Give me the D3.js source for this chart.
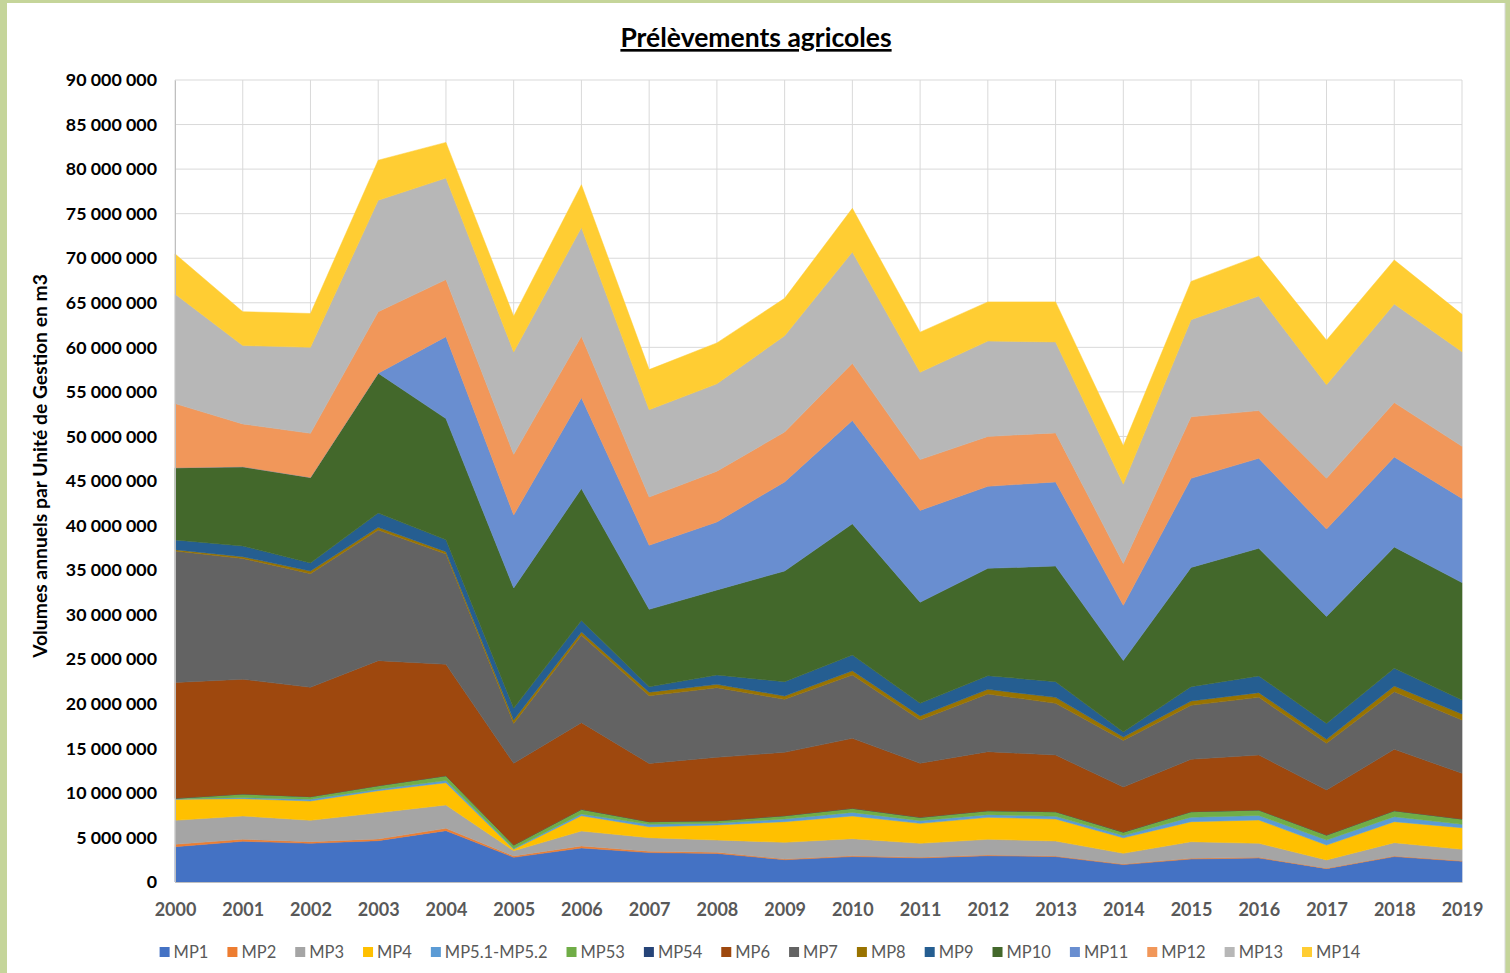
<html>
<head>
<script src="https://d3js.org/d3.v7.min.js"></script>
<style>
  body { margin: 0; background: #c5d59a; }
  svg { display: block; }
  .tick text { font-family: Lato, "Open Sans", sans-serif; }
</style>
</head>
<body>
<svg id="chart" width="1510" height="973"></svg>
<script>
// values, in millions of m3
var years = [2000,2001,2002,2003,2004,2005,2006,2007,2008,2009,2010,2011,2012,2013,2014,2015,2016,2017,2018,2019];
var mp1  = [3.96,4.57,4.34,4.64,5.76,2.77,3.82,3.3,3.2,2.5,2.85,2.7,2.95,2.85,1.95,2.58,2.7,1.5,2.85,2.33];
var mp2  = [0.27,0.22,0.18,0.19,0.26,0.15,0.22,0.15,0.13,0.08,0.1,0.07,0.08,0.07,0.07,0.08,0.07,0.04,0.07,0.06];
var mp3  = [2.69,2.62,2.4,2.95,2.62,0.58,1.68,1.52,1.38,1.87,1.91,1.57,1.76,1.68,1.2,1.86,1.57,0.93,1.49,1.28];
var mp4  = [2.36,1.94,2.17,2.47,2.5,0.17,1.72,1.23,1.69,2.32,2.55,2.24,2.47,2.47,1.74,2.25,2.62,1.68,2.36,2.42];
var mp51 = [0.05,0.1,0.2,0.15,0.25,0.1,0.2,0.27,0.2,0.3,0.4,0.3,0.3,0.3,0.25,0.5,0.5,0.56,0.56,0.38];
var mp53 = [0.06,0.43,0.29,0.41,0.54,0.38,0.52,0.3,0.28,0.37,0.46,0.38,0.44,0.52,0.39,0.62,0.62,0.56,0.67,0.6];
var mp54 = [0,0,0,0,0,0,0,0,0,0,0,0,0,0,0,0,0,0,0,0];
var mp6  = [13.0,12.87,12.27,14.03,12.5,9.17,9.72,6.53,7.11,7.11,7.85,6.06,6.62,6.36,5.05,5.88,6.17,5.05,6.89,5.13];
var mp7  = [14.75,13.55,12.75,14.66,12.37,4.48,9.82,7.6,7.81,5.95,7.11,4.86,6.48,5.8,5.24,6.06,6.47,5.24,6.47,5.98];
var mp8  = [0.15,0.2,0.3,0.3,0.27,0.38,0.35,0.4,0.38,0.37,0.47,0.45,0.52,0.67,0.37,0.48,0.53,0.45,0.64,0.67];
var mp9  = [1.1,1.2,0.9,1.6,1.33,1.31,1.3,0.6,1.05,1.61,1.77,1.42,1.53,1.76,0.56,1.61,1.87,1.79,1.98,1.57];
var mp10 = [8.1,8.9,9.6,15.7,13.6,13.5,14.8,8.7,9.54,12.42,14.73,11.35,12.05,12.97,8.03,13.38,14.33,12.0,13.62,13.18];
var mp11 = [0,0,0,0,9.2,8.2,10.2,7.2,7.63,10.0,11.6,10.3,9.2,9.45,6.2,10.0,10.1,9.8,10.1,9.45];
var mp12 = [7.2,4.8,4.95,6.9,6.4,6.8,6.9,5.4,5.7,5.6,6.4,5.7,5.6,5.5,4.7,6.9,5.35,5.7,6.1,5.85];
var mp13 = [12.3,8.8,9.65,12.5,11.4,11.5,12.2,9.8,9.8,10.8,12.5,9.8,10.7,10.2,8.9,10.9,12.86,10.5,11.06,10.6];
var mp14 = [4.5,3.8,3.8,4.5,4.0,4.0,4.8,4.5,4.6,4.2,4.9,4.5,4.4,4.5,4.3,4.3,4.5,5.0,4.94,4.2];

var names  = ["MP1","MP2","MP3","MP4","MP5.1-MP5.2","MP53","MP54","MP6","MP7","MP8","MP9","MP10","MP11","MP12","MP13","MP14"];
var series = [mp1,mp2,mp3,mp4,mp51,mp53,mp54,mp6,mp7,mp8,mp9,mp10,mp11,mp12,mp13,mp14];
var colors = ["#4472c4","#ed7d31","#a5a5a5","#ffc000","#5b9bd5","#70ad47","#264478","#9e480e",
              "#636363","#997300","#255e91","#43682b","#698ed0","#f1975a","#b7b7b7","#ffcd33"];
var yTicks = d3.range(0, 90000001, 5000000);

function draw(){
  var svg = d3.select("#chart");
  var left = 175, right = 1462, mTop = 80, bottom = 882;

  // white card inside the green frame
  svg.append("rect").attr("x",7).attr("y",3).attr("width",1498).attr("height",970).attr("fill","white");
  svg.append("line").attr("x1",1505).attr("x2",1505).attr("y1",3).attr("y2",973).attr("stroke","#d9d9d9");

  var table = years.map(function(y,i){
    var row = {year:y};
    names.forEach(function(n,k){ row[n] = series[k][i]*1e6; });
    return row;
  });

  var xs = d3.scaleLinear().domain([2000,2019]).range([left,right]);
  var ys = d3.scaleLinear().domain([0,90000000]).range([bottom,mTop]);

  // grid
  svg.append("g").selectAll("line").data(yTicks).enter().append("line")
    .attr("x1",left).attr("x2",right).attr("y1",d=>ys(d)).attr("y2",d=>ys(d))
    .attr("stroke","#d9d9d9");
  svg.append("g").selectAll("line").data(years).enter().append("line")
    .attr("x1",d=>xs(d)).attr("x2",d=>xs(d)).attr("y1",mTop).attr("y2",bottom)
    .attr("stroke","#d9d9d9");

  var stacked = d3.stack().keys(names)(table);
  var area = d3.area().x(d=>xs(d.data.year)).y0(d=>ys(d[0])).y1(d=>ys(d[1]));

  svg.append("g").selectAll("path").data(stacked).enter().append("path")
    .attr("d",area)
    .attr("fill",(d,i)=>colors[i])
    .attr("stroke",(d,i)=>colors[i])
    .attr("stroke-width",0.5);

  // axes
  var fmt = function(v){ return d3.format(",")(v).replace(/,/g," "); };
  var yAxis = svg.append("g").attr("transform","translate("+left+",0)")
    .call(d3.axisLeft(ys).tickValues(yTicks).tickFormat(fmt).tickSize(0).tickPadding(18));
  yAxis.select(".domain").attr("stroke","#bfbfbf");
  yAxis.selectAll("text").attr("font-size",17.8).attr("font-weight","bold").attr("fill","#000");

  var xAxis = svg.append("g").attr("transform","translate(0,"+bottom+")")
    .call(d3.axisBottom(xs).tickValues(years).tickFormat(d3.format("d")).tickSize(0).tickPadding(21));
  xAxis.select(".domain").attr("stroke","#bfbfbf");
  xAxis.selectAll("text").attr("font-size",18).attr("font-weight","bold").attr("fill","#595959");

  // title
  svg.append("text").attr("x",756).attr("y",47).attr("text-anchor","middle")
    .attr("font-family","Lato, sans-serif").attr("font-size",26.5).attr("font-weight","bold")
    .attr("text-decoration","underline").text("Prélèvements agricoles");

  svg.append("text").attr("transform","translate(47,466) rotate(-90)").attr("text-anchor","middle")
    .attr("font-family","Lato, sans-serif").attr("font-size",19.3).attr("font-weight","bold")
    .text("Volumes annuels par Unité de Gestion en m3");

  // legend
  var lg = svg.append("g").attr("font-family","Lato, sans-serif").attr("font-size",16.5).attr("fill","#595959");
  var items = lg.selectAll("g").data(names).enter().append("g");
  items.append("rect").attr("width",10).attr("height",10).attr("y",-11).attr("fill",(d,i)=>colors[i]);
  items.append("text").attr("x",14).text(d=>d);
  var xpos = 0;
  items.each(function(){
    var w = d3.select(this).select("text").node().getComputedTextLength();
    d3.select(this).attr("transform","translate("+xpos+",958)");
    xpos += 14 + w + 19;
  });
  var total = xpos - 19;
  lg.attr("transform","translate("+(760 - total/2)+",0)");
}
draw();
</script>
</body>
</html>
